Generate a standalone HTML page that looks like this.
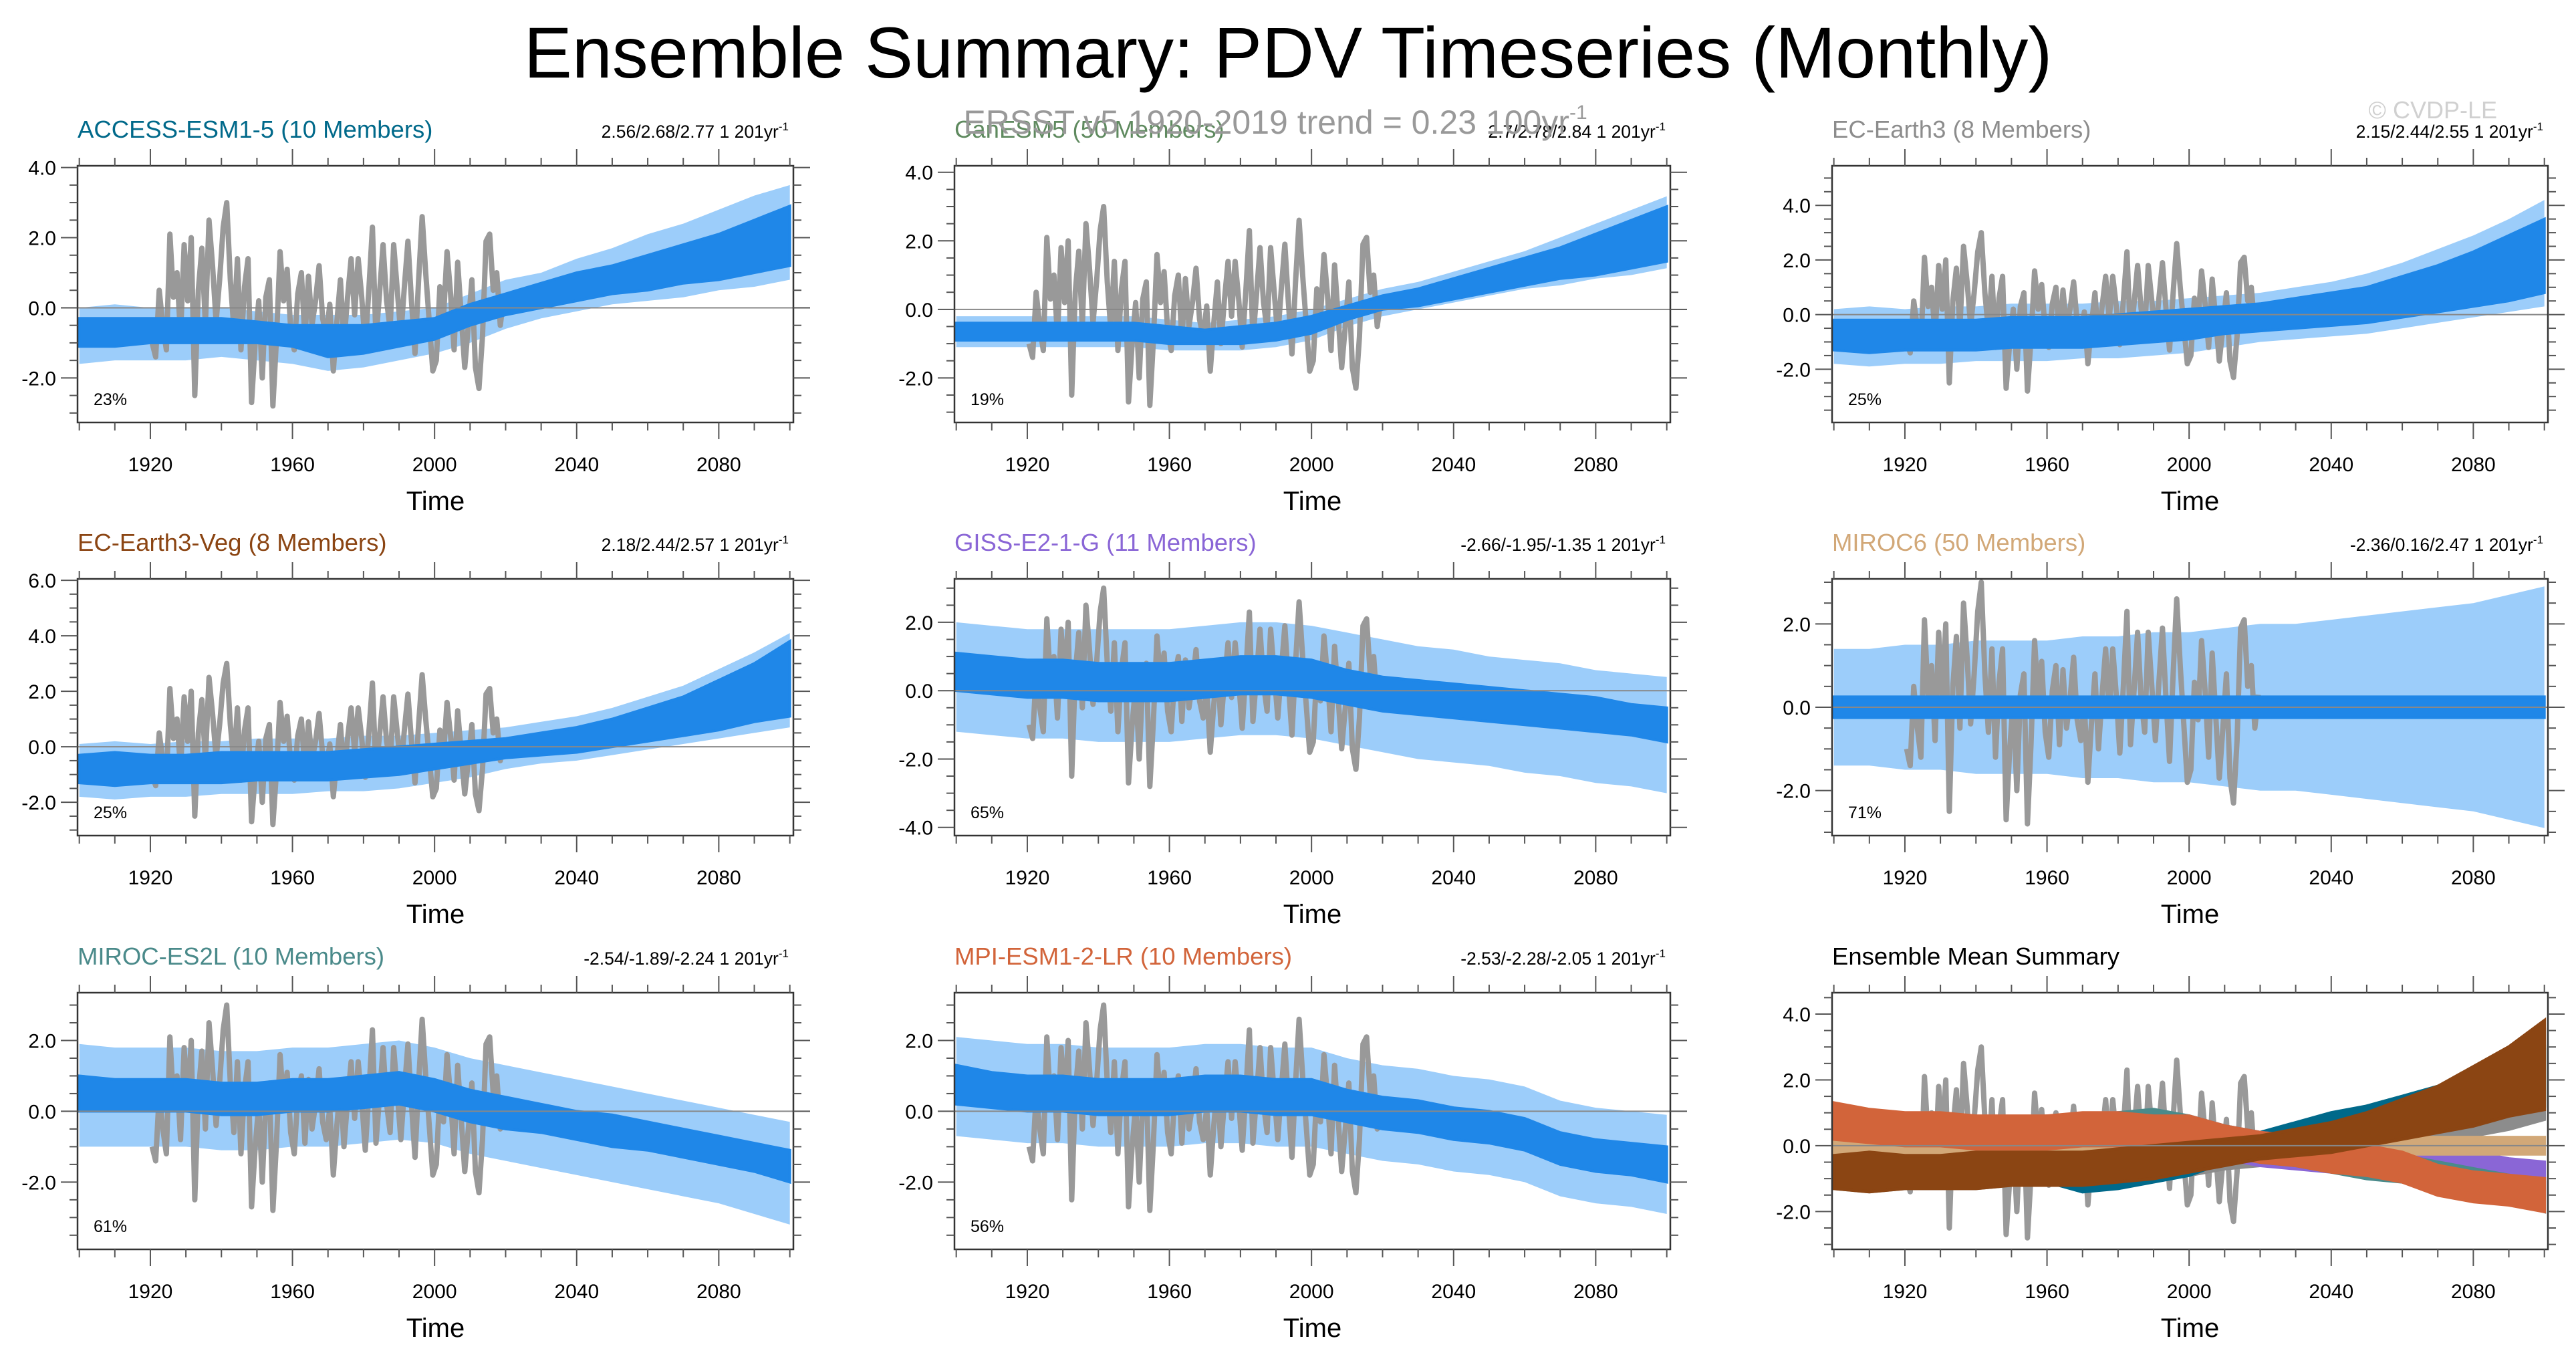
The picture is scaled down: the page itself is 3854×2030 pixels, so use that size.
<!DOCTYPE html>
<html><head><meta charset="utf-8">
<style>
html,body{margin:0;padding:0;background:#fff;}
svg{display:block;font-family:"Liberation Sans",sans-serif;}
</style></head>
<body>
<svg id="fig" width="3854" height="2030" viewBox="0 0 3854 2030" xmlns="http://www.w3.org/2000/svg">
<text x="1927" y="116" text-anchor="middle" font-size="108" fill="#000">Ensemble Summary: PDV Timeseries (Monthly)</text>
<text x="3736" y="177" text-anchor="end" font-size="36" fill="#d0d0d0">© CVDP-LE</text>
<g id="panels"></g>
<text x="1908" y="200" text-anchor="middle" font-size="50" fill="#999">ERSST v5 1920-2019 trend = 0.23 100yr<tspan dy="-22" font-size="30">-1</tspan></text>
</svg>
<script>
const YEARS=[1900,1910,1920,1930,1940,1950,1960,1970,1980,1990,2000,2010,2020,2030,2040,2050,2060,2070,2080,2090,2100];
const OBS_START=1920;
const OBS=[-1.0,-1.4,0.5,-0.5,-1.2,2.1,0.3,1.0,-0.8,1.8,0.2,2.0,-2.5,0.5,1.7,-0.5,2.5,1.2,-0.4,0.8,2.3,3.0,0.8,-0.6,1.4,-1.2,0.6,1.4,-2.7,-1.0,0.2,-2.0,0.3,0.8,-2.8,-0.9,1.6,0.2,1.1,-0.6,-1.2,0.4,1.0,-0.9,0.9,-0.5,0.2,1.2,-0.3,-0.8,0.1,-1.8,-0.4,0.8,-1.0,0.3,1.4,-0.2,1.4,0.3,-1.1,0.5,2.3,-0.9,0.4,1.8,0.2,-0.6,1.8,0.5,-0.8,0.6,1.9,0.2,-1.3,0.8,2.6,1.0,-0.4,-1.8,-1.5,0.6,-0.3,1.6,0.4,-1.2,1.3,-0.2,-1.7,-0.5,0.8,-1.7,-2.3,-0.8,1.9,2.1,0.5,1.0,-0.5,0.3];

const ACCESS_DL=[-1.1,-1.1,-1.0,-1.0,-1.0,-1.0,-1.1,-1.4,-1.3,-1.1,-0.9,-0.5,-0.2,0.0,0.2,0.4,0.5,0.7,0.8,1.0,1.2];
const ACCESS_DH=[-0.3,-0.3,-0.3,-0.3,-0.3,-0.4,-0.5,-0.5,-0.5,-0.4,-0.3,0.1,0.4,0.7,1.0,1.2,1.5,1.8,2.1,2.5,2.9];
const ACCESS_LL=[-1.6,-1.5,-1.5,-1.5,-1.4,-1.5,-1.6,-1.8,-1.7,-1.5,-1.3,-1.0,-0.6,-0.3,-0.1,0.1,0.2,0.3,0.5,0.6,0.8];
const ACCESS_LH=[0.0,0.1,0.0,0.0,0.0,-0.1,-0.2,-0.2,-0.2,-0.1,0.0,0.4,0.8,1.0,1.4,1.7,2.1,2.4,2.8,3.2,3.5];

const CAN_DL=[-0.9,-0.9,-0.9,-0.9,-0.9,-0.9,-1.0,-1.0,-1.0,-0.9,-0.7,-0.3,0.0,0.1,0.3,0.5,0.7,0.9,1.0,1.2,1.4];
const CAN_DH=[-0.4,-0.4,-0.4,-0.4,-0.4,-0.4,-0.5,-0.6,-0.5,-0.4,-0.2,0.1,0.4,0.6,0.9,1.2,1.5,1.8,2.2,2.6,3.0];
const CAN_LL=[-1.1,-1.1,-1.1,-1.1,-1.1,-1.1,-1.2,-1.2,-1.2,-1.1,-0.9,-0.5,-0.2,0.0,0.2,0.4,0.6,0.7,0.9,1.0,1.2];
const CAN_LH=[-0.2,-0.2,-0.2,-0.2,-0.2,-0.2,-0.3,-0.4,-0.3,-0.2,0.0,0.3,0.6,0.8,1.1,1.4,1.7,2.1,2.5,2.9,3.3];

const ECE_DL=[-1.3,-1.4,-1.3,-1.3,-1.3,-1.2,-1.2,-1.2,-1.1,-1.0,-0.9,-0.7,-0.6,-0.5,-0.4,-0.3,-0.1,0.1,0.3,0.5,0.8];
const ECE_DH=[-0.2,-0.2,-0.2,-0.2,-0.2,-0.1,-0.1,-0.1,0.0,0.1,0.2,0.3,0.4,0.6,0.8,1.0,1.4,1.8,2.3,2.9,3.5];
const ECE_LL=[-1.8,-1.9,-1.8,-1.8,-1.7,-1.7,-1.7,-1.6,-1.6,-1.5,-1.4,-1.2,-1.0,-0.9,-0.8,-0.7,-0.5,-0.3,-0.1,0.1,0.3];
const ECE_LH=[0.2,0.3,0.2,0.3,0.3,0.4,0.4,0.4,0.5,0.5,0.6,0.7,0.8,1.0,1.2,1.5,1.9,2.4,2.9,3.5,4.2];

const VEG_DL=[-1.3,-1.4,-1.3,-1.3,-1.3,-1.2,-1.2,-1.2,-1.1,-1.0,-0.8,-0.6,-0.4,-0.3,-0.2,0.0,0.2,0.4,0.6,0.9,1.1];
const VEG_DH=[-0.3,-0.2,-0.3,-0.3,-0.2,-0.2,-0.2,-0.2,-0.1,0.0,0.1,0.2,0.3,0.5,0.7,1.0,1.4,1.8,2.4,3.0,3.8];
const VEG_LL=[-1.8,-1.9,-1.8,-1.8,-1.7,-1.7,-1.7,-1.6,-1.6,-1.5,-1.3,-1.1,-0.8,-0.6,-0.5,-0.3,-0.1,0.1,0.3,0.5,0.7];
const VEG_LH=[0.1,0.2,0.1,0.2,0.2,0.3,0.3,0.3,0.4,0.4,0.5,0.6,0.7,0.9,1.1,1.4,1.8,2.2,2.8,3.4,4.1];

const GISS_DL=[0.0,-0.1,-0.2,-0.2,-0.3,-0.3,-0.3,-0.2,-0.1,-0.1,-0.2,-0.4,-0.6,-0.7,-0.8,-0.9,-1.0,-1.1,-1.2,-1.3,-1.5];
const GISS_DH=[1.1,1.0,0.9,0.9,0.8,0.8,0.8,0.9,1.0,1.0,0.9,0.6,0.4,0.3,0.2,0.1,0.0,-0.1,-0.2,-0.4,-0.5];
const GISS_LL=[-1.2,-1.3,-1.4,-1.4,-1.5,-1.5,-1.5,-1.4,-1.3,-1.3,-1.4,-1.6,-1.8,-2.0,-2.1,-2.2,-2.4,-2.5,-2.7,-2.8,-3.0];
const GISS_LH=[2.0,1.9,1.8,1.8,1.8,1.8,1.8,1.9,2.0,2.0,1.9,1.7,1.5,1.3,1.2,1.0,0.9,0.8,0.6,0.5,0.4];

const MIROC6_DL=[-0.25,-0.25,-0.25,-0.25,-0.25,-0.25,-0.25,-0.25,-0.25,-0.25,-0.25,-0.25,-0.25,-0.25,-0.25,-0.25,-0.25,-0.25,-0.25,-0.25,-0.25];
const MIROC6_DH=[0.25,0.25,0.25,0.25,0.25,0.25,0.25,0.25,0.25,0.25,0.25,0.25,0.25,0.25,0.25,0.25,0.25,0.25,0.25,0.25,0.25];
const MIROC6_LL=[-1.4,-1.4,-1.5,-1.5,-1.6,-1.6,-1.6,-1.7,-1.7,-1.8,-1.8,-1.9,-2.0,-2.0,-2.1,-2.2,-2.3,-2.4,-2.5,-2.7,-2.9];
const MIROC6_LH=[1.4,1.4,1.5,1.5,1.6,1.6,1.6,1.7,1.7,1.8,1.8,1.9,2.0,2.0,2.1,2.2,2.3,2.4,2.5,2.7,2.9];

const ES2L_DL=[0.0,0.0,0.0,0.0,-0.1,-0.1,0.0,0.0,0.1,0.2,0.0,-0.3,-0.5,-0.6,-0.8,-1.0,-1.1,-1.3,-1.5,-1.7,-2.0];
const ES2L_DH=[1.0,0.9,0.9,0.9,0.8,0.8,0.9,0.9,1.0,1.1,0.9,0.6,0.4,0.2,0.0,-0.1,-0.3,-0.5,-0.7,-0.9,-1.1];
const ES2L_LL=[-1.0,-1.0,-1.0,-1.0,-1.1,-1.1,-1.0,-1.0,-0.9,-0.8,-0.9,-1.2,-1.4,-1.6,-1.8,-2.0,-2.2,-2.4,-2.6,-2.9,-3.2];
const ES2L_LH=[1.9,1.8,1.8,1.8,1.7,1.7,1.8,1.8,1.9,2.0,1.8,1.5,1.3,1.1,0.9,0.7,0.5,0.3,0.1,-0.1,-0.3];

const MPI_DL=[0.2,0.1,0.0,0.0,-0.1,-0.1,-0.1,0.0,0.0,-0.1,-0.1,-0.3,-0.5,-0.6,-0.8,-0.9,-1.1,-1.5,-1.7,-1.8,-2.0];
const MPI_DH=[1.3,1.1,1.0,1.0,0.9,0.9,0.9,1.0,1.0,0.9,0.9,0.6,0.4,0.3,0.1,0.0,-0.2,-0.6,-0.8,-0.9,-1.0];
const MPI_LL=[-0.7,-0.8,-0.9,-0.9,-1.0,-1.0,-1.0,-0.9,-0.9,-1.0,-1.0,-1.2,-1.4,-1.5,-1.7,-1.8,-2.0,-2.4,-2.6,-2.7,-2.9];
const MPI_LH=[2.1,2.0,1.9,1.9,1.8,1.8,1.8,1.9,1.9,1.8,1.8,1.5,1.3,1.2,1.0,0.9,0.7,0.3,0.1,0.0,-0.1];

const X_TICK_LABELS=[1920,1960,2000,2040,2080];

const NS="http://www.w3.org/2000/svg";
const root=document.getElementById('panels');
const COL_X=[116,1428,2741], ROW_Y=[248,866,1485], PW=1071, PH=384;
const XMIN=1899.5, XMAX=2101;

function mk(tag,attrs,parent){const e=document.createElementNS(NS,tag);for(const k in attrs)e.setAttribute(k,attrs[k]);(parent||root).appendChild(e);return e;}

const MODELS=[
 {name:"ACCESS-ESM1-5 (10 Members)",key:"access",color:"#00698a",trend:"2.56/2.68/2.77 1 201yr",pct:"23%",ymin:-3.27,ymax:4.05,ytk:[-2,0,2,4],dl:ACCESS_DL,dh:ACCESS_DH,ll:ACCESS_LL,lh:ACCESS_LH},
 {name:"CanESM5 (50 Members)",key:"canesm5",color:"#5f8a5f",trend:"2.7/2.78/2.84 1 201yr",pct:"19%",ymin:-3.3,ymax:4.19,ytk:[-2,0,2,4],dl:CAN_DL,dh:CAN_DH,ll:CAN_LL,lh:CAN_LH},
 {name:"EC-Earth3 (8 Members)",key:"ec-earth3",color:"#8c8c8c",trend:"2.15/2.44/2.55 1 201yr",pct:"25%",ymin:-3.95,ymax:5.45,ytk:[-2,0,2,4],dl:ECE_DL,dh:ECE_DH,ll:ECE_LL,lh:ECE_LH},
 {name:"EC-Earth3-Veg (8 Members)",key:"ec-earth3-veg",color:"#8b4513",trend:"2.18/2.44/2.57 1 201yr",pct:"25%",ymin:-3.2,ymax:6.05,ytk:[-2,0,2,4,6],dl:VEG_DL,dh:VEG_DH,ll:VEG_LL,lh:VEG_LH},
 {name:"GISS-E2-1-G (11 Members)",key:"giss",color:"#8a66d6",trend:"-2.66/-1.95/-1.35 1 201yr",pct:"65%",ymin:-4.24,ymax:3.27,ytk:[-4,-2,0,2],dl:GISS_DL,dh:GISS_DH,ll:GISS_LL,lh:GISS_LH},
 {name:"MIROC6 (50 Members)",key:"miroc6",color:"#d2a878",trend:"-2.36/0.16/2.47 1 201yr",pct:"71%",ymin:-3.08,ymax:3.08,ytk:[-2,0,2],dl:MIROC6_DL,dh:MIROC6_DH,ll:MIROC6_LL,lh:MIROC6_LH},
 {name:"MIROC-ES2L (10 Members)",key:"miroc-es2l",color:"#4a8a8a",trend:"-2.54/-1.89/-2.24 1 201yr",pct:"61%",ymin:-3.9,ymax:3.35,ytk:[-2,0,2],dl:ES2L_DL,dh:ES2L_DH,ll:ES2L_LL,lh:ES2L_LH},
 {name:"MPI-ESM1-2-LR (10 Members)",key:"mpi",color:"#d2643a",trend:"-2.53/-2.28/-2.05 1 201yr",pct:"56%",ymin:-3.9,ymax:3.35,ytk:[-2,0,2],dl:MPI_DL,dh:MPI_DH,ll:MPI_LL,lh:MPI_LH}
];

function bandPath(xs,ys,lo,hi){
  let d="";
  for(let i=0;i<YEARS.length;i++)d+=(i?"L":"M")+xs(YEARS[i]).toFixed(1)+","+ys(hi[i]).toFixed(1);
  for(let i=YEARS.length-1;i>=0;i--)d+="L"+xs(YEARS[i]).toFixed(1)+","+ys(lo[i]).toFixed(1);
  return d+"Z";
}

function drawPanel(pi,cfg,isSummary){
  const px=COL_X[pi%3], py=ROW_Y[Math.floor(pi/3)];
  const g=mk('g',{});
  
  
  const xs=v=>px+(v-XMIN)/(XMAX-XMIN)*PW;
  const ys=v=>py+(cfg.ymax-v)/(cfg.ymax-cfg.ymin)*PH;
  const clipId='clip'+pi;
  const cp=mk('clipPath',{id:clipId},g);mk('rect',{x:px,y:py,width:PW,height:PH},cp);
  const data=mk('g',{'clip-path':'url(#'+clipId+')'},g);
  const obsPts=OBS.map((v,i)=>xs(OBS_START+i+0.5).toFixed(1)+","+ys(v).toFixed(1)).join(" ");
  if(isSummary){
    const o=mk('polyline',{points:obsPts,fill:'none',stroke:'#999','stroke-width':8,'stroke-linejoin':'round'},data);
    
    
    const order=[2,1,0,4,6,5,7,3];
    order.forEach(k=>{const m=MODELS[k];
      const b=mk('path',{d:bandPath(xs,ys,m.dl,m.dh),fill:m.color,stroke:m.color,'stroke-width':5},data);
      
      
    });
  } else {
    const lb=mk('path',{d:bandPath(xs,ys,cfg.ll,cfg.lh),fill:'#9ccdfa'},data);
    
    
    const o=mk('polyline',{points:obsPts,fill:'none',stroke:'#999','stroke-width':8,'stroke-linejoin':'round'},data);
    
    
    const db=mk('path',{d:bandPath(xs,ys,cfg.dl,cfg.dh),fill:'#1f87e8',stroke:'#1f87e8','stroke-width':4},data);
    
    
  }
  const z=mk('line',{x1:px,x2:px+PW,y1:ys(0),y2:ys(0),stroke:'#888','stroke-width':2},g);
  
  
  const fr=mk('rect',{x:px,y:py,width:PW,height:PH,fill:'none',stroke:'#333','stroke-width':2.5},g);
  
  
  for(let yr=1900;yr<=2100;yr+=10){
    const x=xs(yr), major=(yr-1920)%40===0, L=major?25:12;
    mk('line',{x1:x,x2:x,y1:py,y2:py-L,stroke:'#555','stroke-width':2},g);
    mk('line',{x1:x,x2:x,y1:py+PH,y2:py+PH+L,stroke:'#555','stroke-width':2},g);
  }
  X_TICK_LABELS.forEach(yr=>{
    const t=mk('text',{x:xs(yr),y:py+PH+73,'text-anchor':'middle','font-size':30,fill:'#000'},g);
    t.textContent=yr;
    
    
  });
  for(let v=Math.ceil(cfg.ymin*2)/2;v<=cfg.ymax+1e-9;v+=0.5){
    const y=ys(v), major=Math.abs(v%2)<1e-9, L=major?25:12;
    mk('line',{x1:px,x2:px-L,y1:y,y2:y,stroke:'#555','stroke-width':2},g);
    mk('line',{x1:px+PW,x2:px+PW+L,y1:y,y2:y,stroke:'#555','stroke-width':2},g);
  }
  cfg.ytk.forEach(v=>{
    const t=mk('text',{x:px-32,y:ys(v)+11,'text-anchor':'end','font-size':30,fill:'#000'},g);
    t.textContent=v.toFixed(1);
    
    
  });
  const xt=mk('text',{x:px+PW/2,y:py+PH+131,'text-anchor':'middle','font-size':40,fill:'#000'},g);
  xt.textContent='Time';
  
  
  const tt=mk('text',{x:px,y:py-42,'font-size':36.5,fill:isSummary?'#000':cfg.color},g);
  tt.textContent=cfg.name;
  
  
  if(!isSummary){
    const tr=mk('text',{x:px+PW-7,y:py-42,'text-anchor':'end','font-size':26.5,fill:'#000'},g);
    tr.textContent=cfg.trend;
    const sup=mk('tspan',{dy:-11,'font-size':17},tr);sup.textContent='-1';
    
    
    const pc=mk('text',{x:px+24,y:py+PH-26,'font-size':25,fill:'#000'},g);
    pc.textContent=cfg.pct;
    
    
  }
}
MODELS.forEach((m,i)=>drawPanel(i,m,false));
drawPanel(8,{name:"Ensemble Mean Summary",key:"ensemble-mean-summary",color:"#000",ymin:-3.15,ymax:4.65,ytk:[-2,0,2,4]},true);
</script>
</body></html>
